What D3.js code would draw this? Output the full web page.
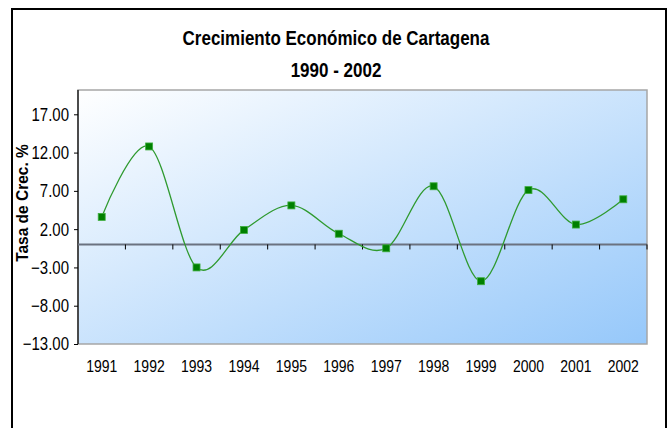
<!DOCTYPE html>
<html><head><meta charset="utf-8">
<script src="https://cdn.jsdelivr.net/npm/d3@7"></script>
<style>
html,body{margin:0;padding:0;background:#fff;}
svg{display:block;}
text{font-family:"Liberation Sans",Arial,sans-serif;fill:#000;}
</style></head>
<body><svg id="c" width="671" height="428"></svg>
<script>
const years = ["1991","1992","1993","1994","1995","1996","1997","1998","1999","2000","2001","2002"];
const growth = [3.6, 12.8, -3.0, 1.9, 5.1, 1.4, -0.5, 7.6, -4.8, 7.1, 2.6, 5.9];
const yTicks = [-13, -8, -3, 2, 7, 12, 17];
const title1 = "Crecimiento Económico de Cartagena";
const title2 = "1990 - 2002";
const yTitle = "Tasa de Crec. %";

const svg = d3.select("#c");
const plot = {l: 78, r: 647, t: 90, b: 344};

function label(x0, y0, txt, opts) {
  const sy = opts.sy || 1.2;
  const t = svg.append("text")
    .attr("transform", `translate(${x0},${y0})${opts.rot ? " rotate(-90)" : ""} scale(1,${sy})`)
    .attr("text-anchor", opts.anchor || "middle")
    .attr("font-size", opts.size)
    .attr("font-weight", opts.bold ? "bold" : null)
    .text(txt);
  if (opts.dy) t.attr("dy", opts.dy);
  return t;
}

// outer frame
svg.append("rect").attr("x", 12).attr("y", 9).attr("width", 654).attr("height", 430)
  .attr("fill", "#fff").attr("stroke", "#000").attr("stroke-width", 2);

const defs = svg.append("defs");
const g = defs.append("linearGradient").attr("id", "bg")
  .attr("x1", "0").attr("y1", "0").attr("x2", "1").attr("y2", "1");
g.append("stop").attr("offset", "0").attr("stop-color", "#ffffff");
g.append("stop").attr("offset", "1").attr("stop-color", "#96c8fa");

const x = d3.scaleBand().domain(years).range([plot.l, plot.r]);
const y = d3.scaleLinear().domain([-13, 17]).range([344, 114.3]);

// plot area
svg.append("rect").attr("x", plot.l).attr("y", plot.t)
  .attr("width", plot.r - plot.l).attr("height", plot.b - plot.t)
  .attr("fill", "url(#bg)").attr("stroke", "#a6a6a6").attr("stroke-width", 1.5);

// titles
label(336, 45, title1, {size: 17, bold: true});
label(336, 77, title2, {size: 17, bold: true});

// y axis
const yAxis = d3.axisLeft(y).tickValues(yTicks).tickSize(4).tickFormat("");
const ya = svg.append("g").attr("transform", `translate(${plot.l},0)`).call(yAxis);
ya.select(".domain").remove();
ya.selectAll(".tick line").attr("stroke", "#000");
const fmt = d3.format(".2f");
yTicks.forEach(v => label(69, y(v), fmt(v), {size: 15, anchor: "end", dy: "0.36em"}));
svg.append("line").attr("x1", plot.l).attr("x2", plot.l).attr("y1", plot.t).attr("y2", plot.b)
  .attr("stroke", "#000").attr("stroke-width", 1.2);

label(28, 203, yTitle, {size: 15.5, bold: true, rot: true, sy: 1.08});

// zero axis with category ticks
svg.append("line").attr("x1", plot.l).attr("x2", plot.r).attr("y1", y(0)).attr("y2", y(0))
  .attr("stroke", "#6b7280").attr("stroke-width", 2);
const bounds = years.slice(1).map(d => x(d)).concat([plot.r]);
svg.selectAll(".ct").data(bounds).enter().append("line")
  .attr("x1", d => d).attr("x2", d => d).attr("y1", y(0)).attr("y2", y(0) + 5)
  .attr("stroke", "#000").attr("stroke-width", 1);

// x labels
const cx = d => x(d) + x.bandwidth() / 2;
years.forEach(d => label(cx(d), 366, d, {size: 14, dy: "0.36em"}));

// line
const pts = years.map((d, i) => [cx(d), y(growth[i])]);
svg.append("path").datum(pts)
  .attr("d", d3.line().curve(d3.curveCardinal.tension(0)))
  .attr("fill", "none").attr("stroke", "#2f9a2f").attr("stroke-width", 1.3);

svg.selectAll(".m").data(years).enter().append("rect")
  .attr("x", d => cx(d) - 3.5).attr("y", (d, i) => y(growth[i]) - 3.5)
  .attr("width", 7).attr("height", 7)
  .attr("fill", "#008000").attr("stroke", "#3fae3f").attr("stroke-width", 0.8);
</script></body></html>
